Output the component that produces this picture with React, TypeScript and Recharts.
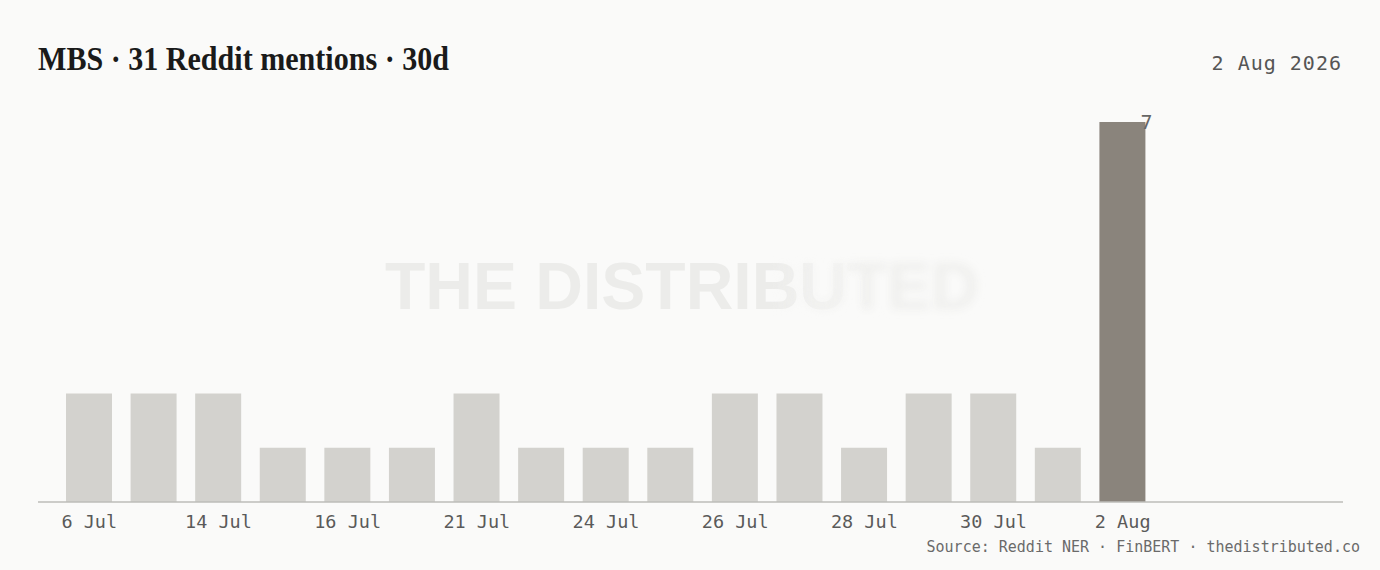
import { BarChart, Bar, XAxis, YAxis, Cell, LabelList } from 'recharts';

const DATES = [
  '6 Jul', '11 Jul', '14 Jul', '15 Jul', '16 Jul', '19 Jul', '21 Jul', '23 Jul', '24 Jul',
  '25 Jul', '26 Jul', '27 Jul', '28 Jul', '29 Jul', '30 Jul', '1 Aug', '2 Aug',
];
const MENTIONS = [2, 2, 2, 1, 1, 1, 2, 1, 1, 1, 2, 2, 1, 2, 2, 1, 7];

const BG = '#fafaf9';
const BAR = '#d3d2ce';
const BAR_LATEST = '#8a847c';
const MONO = '"DejaVu Sans Mono", monospace';

const data = DATES.map((date, i) => ({ date, mentions: MENTIONS[i] }));

// value label only on the latest bar, sitting on its top-right corner
function LatestLabel(props: any) {
  const { x, y, width, index, value } = props;
  if (index !== MENTIONS.length - 1) return null;
  return (
    <text
      x={x + width + 1}
      y={y}
      dy="0.36em"
      textAnchor="middle"
      fill="#666"
      fontFamily={MONO}
      fontSize={20}
    >
      {value}
    </text>
  );
}

export default function App() {
  return (
    <div style={{ position: 'absolute', left: 0, top: 0, width: 1380, height: 570, background: BG }}>
      {/* watermark + header/footer text */}
      <svg width={1380} height={570} style={{ position: 'absolute', left: 0, top: 0 }}>
        <defs>
          <filter id="wmBlur" x="-10%" y="-30%" width="120%" height="160%">
            <feGaussianBlur stdDeviation="4.5" />
          </filter>
          <linearGradient id="fadeOut" gradientUnits="userSpaceOnUse" x1={770} x2={870} y1={0} y2={0}>
            <stop offset="0" stopColor="#fff" />
            <stop offset="1" stopColor="#000" />
          </linearGradient>
          <linearGradient id="fadeIn" gradientUnits="userSpaceOnUse" x1={770} x2={870} y1={0} y2={0}>
            <stop offset="0" stopColor="#000" />
            <stop offset="1" stopColor="#fff" />
          </linearGradient>
          <mask id="sharpMask" maskUnits="userSpaceOnUse" x={0} y={0} width={1380} height={570}>
            <rect x={0} y={0} width={1380} height={570} fill="url(#fadeOut)" />
          </mask>
          <mask id="blurMask" maskUnits="userSpaceOnUse" x={0} y={0} width={1380} height={570}>
            <rect x={0} y={0} width={1380} height={570} fill="url(#fadeIn)" />
          </mask>
        </defs>
        <g mask="url(#sharpMask)">
          <text x={385} y={309} fill="#ececea" fontFamily='"Liberation Sans", Arial, sans-serif' fontWeight={700} fontSize={66}>
            THE DISTRIBUTED
          </text>
        </g>
        <g mask="url(#blurMask)">
          <text x={385} y={309} fill="#efefed" filter="url(#wmBlur)" fontFamily='"Liberation Sans", Arial, sans-serif' fontWeight={700} fontSize={66}>
            THE DISTRIBUTED
          </text>
        </g>

        <text
          x={38}
          y={70}
          fill="#1a1a1a"
          fontFamily='"Liberation Serif", "Times New Roman", serif'
          fontWeight={700}
          fontSize={34}
          textLength={411}
          lengthAdjust="spacingAndGlyphs"
        >
          MBS · 31 Reddit mentions · 30d
        </text>
        <text x={1342} y={70} textAnchor="end" fill="#555" fontFamily={MONO} fontSize={20} letterSpacing={1}>
          2 Aug 2026
        </text>
        <text x={1360} y={552} textAnchor="end" fill="#6a6a6a" fontFamily={MONO} fontSize={15}>
          Source: Reddit NER · FinBERT · thedistributed.co
        </text>
      </svg>

      <div style={{ position: 'absolute', left: 0, top: 0 }}>
        <BarChart
          width={1380}
          height={570}
          data={data}
          margin={{ top: 122, right: 37, bottom: 38, left: 38 }}
        >
          <XAxis
            dataKey="date"
            interval={1}
            height={30}
            padding={{ left: 19, right: 188 }}
            axisLine={{ stroke: '#bdbcb9', strokeWidth: 1.5 }}
            tickLine={false}
            tickMargin={7}
            tick={{ fill: '#5a5a5a', fontFamily: MONO, fontSize: 18.5 }}
          />
          <YAxis hide domain={[0, 7]} />
          <Bar dataKey="mentions" barSize={46} isAnimationActive={false}>
            {data.map((d, i) => (
              <Cell key={d.date} fill={i === data.length - 1 ? BAR_LATEST : BAR} />
            ))}
            <LabelList dataKey="mentions" content={<LatestLabel />} />
          </Bar>
        </BarChart>
      </div>
    </div>
  );
}
